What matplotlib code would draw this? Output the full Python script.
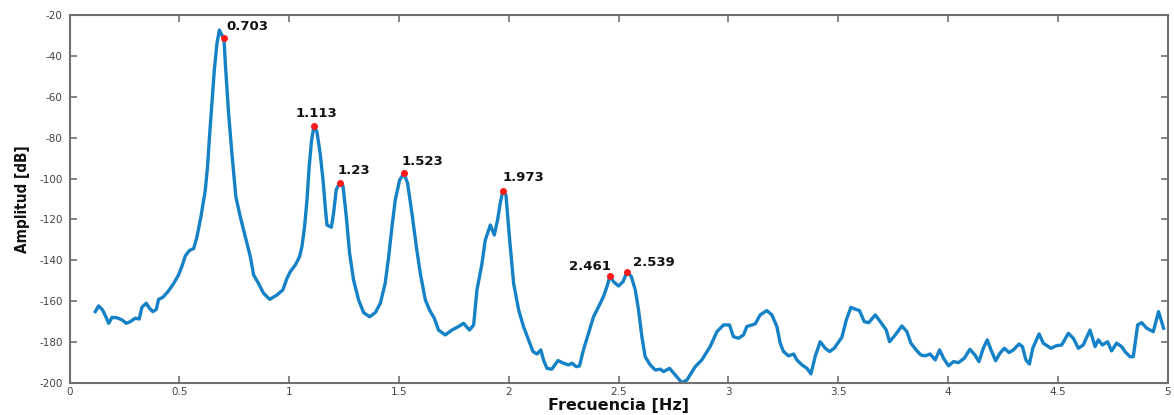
import matplotlib
matplotlib.use("Agg")
import matplotlib.pyplot as plt
from matplotlib import font_manager
import numpy as np

plt.rcParams["axes.unicode_minus"] = False

# spectrum
freq = [0.117, 0.132, 0.150, 0.165, 0.178, 0.193, 0.215, 0.238, 0.258, 0.276,
        0.299, 0.317, 0.329, 0.349, 0.364, 0.379, 0.395, 0.405, 0.425, 0.451,
        0.474, 0.496, 0.511, 0.527, 0.545, 0.565, 0.580, 0.598, 0.618, 0.628,
        0.637, 0.648, 0.659, 0.671, 0.682, 0.693, 0.703, 0.709, 0.724, 0.739,
        0.757, 0.777, 0.800, 0.823, 0.838, 0.860, 0.883, 0.911, 0.944, 0.971,
        0.990, 1.005, 1.028, 1.047, 1.058, 1.070, 1.081, 1.091, 1.102, 1.113,
        1.126, 1.141, 1.154, 1.164, 1.172, 1.192, 1.202, 1.214, 1.230, 1.245,
        1.260, 1.275, 1.293, 1.316, 1.339, 1.366, 1.392, 1.415, 1.437, 1.453,
        1.468, 1.483, 1.503, 1.523, 1.539, 1.559, 1.579, 1.597, 1.620, 1.639,
        1.661, 1.680, 1.711, 1.741, 1.771, 1.794, 1.821, 1.840, 1.855, 1.878,
        1.893, 1.916, 1.934, 1.949, 1.961, 1.973, 1.987, 2.004, 2.022, 2.045,
        2.067, 2.090, 2.110, 2.128, 2.146, 2.158, 2.174, 2.196, 2.224, 2.249,
        2.272, 2.288, 2.307, 2.322, 2.340, 2.363, 2.386, 2.409, 2.431, 2.447,
        2.461, 2.477, 2.500, 2.520, 2.539, 2.558, 2.576, 2.591, 2.606, 2.621,
        2.644, 2.667, 2.690, 2.705, 2.732, 2.758, 2.788, 2.811, 2.849, 2.879,
        2.917, 2.948, 2.978, 3.005, 3.023, 3.046, 3.069, 3.084, 3.122, 3.145,
        3.175, 3.198, 3.221, 3.236, 3.251, 3.274, 3.297, 3.312, 3.335, 3.358,
        3.376, 3.395, 3.418, 3.441, 3.461, 3.482, 3.517, 3.537, 3.558, 3.578,
        3.597, 3.619, 3.639, 3.669, 3.692, 3.719, 3.734, 3.760, 3.790, 3.813,
        3.831, 3.855, 3.877, 3.896, 3.919, 3.942, 3.962, 3.980, 4.003, 4.025,
        4.048, 4.074, 4.100, 4.123, 4.141, 4.161, 4.179, 4.196, 4.217, 4.237,
        4.257, 4.278, 4.298, 4.324, 4.339, 4.355, 4.371, 4.386, 4.415, 4.434,
        4.469, 4.495, 4.518, 4.548, 4.571, 4.594, 4.616, 4.647, 4.670, 4.685,
        4.703, 4.727, 4.745, 4.768, 4.791, 4.806, 4.829, 4.844, 4.864, 4.882,
        4.905, 4.935, 4.959, 4.982]

amp = [-165.0, -162.2, -164.2, -167.5, -170.7, -167.8, -168.0, -169.0, -170.7, -169.9,
       -168.2, -168.6, -162.9, -160.9, -163.4, -165.0, -163.9, -159.0, -158.0, -154.8,
       -151.2, -147.1, -143.0, -137.8, -135.2, -134.2, -128.4, -118.6, -105.6, -94.2,
       -79.6, -63.3, -47.0, -34.0, -27.5, -29.9, -31.5, -43.7, -68.2, -87.7,
       -108.9, -118.6, -128.4, -138.2, -147.1, -151.2, -156.0, -159.0, -156.9, -154.4,
       -148.7, -145.5, -142.2, -138.2, -133.3, -123.5, -110.5, -94.2, -81.2, -74.3,
       -77.1, -87.7, -100.7, -113.7, -122.7, -123.8, -117.0, -105.6, -102.0, -103.6,
       -118.6, -136.5, -149.5, -159.3, -165.5, -167.5, -165.5, -160.9, -151.2, -138.2,
       -123.5, -110.5, -100.7, -97.5, -102.3, -117.0, -133.3, -146.3, -159.3, -164.2,
       -168.3, -174.0, -176.4, -174.0, -172.3, -170.7, -174.0, -171.5, -154.4, -141.4,
       -130.0, -122.7, -127.6, -120.2, -112.1, -106.0, -108.0, -130.0, -151.2, -164.2,
       -172.3, -178.8, -184.5, -185.7, -183.7, -188.6, -192.7, -193.1, -188.9, -190.2,
       -191.0, -190.2, -191.9, -191.5, -183.7, -175.6, -167.5, -162.6, -157.7, -152.8,
       -147.6, -150.4, -152.5, -150.4, -145.5, -147.9, -154.4, -164.2, -177.2, -187.0,
       -191.0, -193.5, -193.1, -194.3, -192.7, -195.9, -199.7, -198.4, -191.9, -188.6,
       -182.1, -174.8, -171.5, -171.5, -177.2, -178.0, -176.4, -172.3, -171.0, -166.6,
       -164.5, -166.6, -172.3, -180.4, -184.5, -186.6, -185.7, -188.6, -191.0, -192.7,
       -195.4, -187.0, -179.7, -182.9, -184.5, -182.9, -177.5, -169.1, -162.9, -163.8,
       -164.5, -169.9, -170.4, -166.6, -169.9, -174.0, -179.7, -176.4, -172.0, -174.8,
       -180.4, -183.7, -186.2, -186.6, -185.7, -188.6, -183.7, -187.8, -191.5, -189.4,
       -189.9, -187.8, -183.4, -186.2, -189.4, -182.9, -178.8, -183.7, -189.0, -185.3,
       -182.9, -185.0, -183.7, -180.8, -182.1, -188.6, -190.6, -182.9, -175.9, -180.4,
       -182.9, -181.6, -181.3, -175.6, -178.0, -182.9, -181.3, -174.0, -182.1, -178.8,
       -181.3, -179.7, -184.2, -180.4, -182.1, -184.5, -187.0, -187.0, -171.5, -170.4,
       -173.1, -174.8, -165.0, -173.1]

peak_freqs = [0.703, 1.113, 1.23, 1.523, 1.973, 2.461, 2.539]
peak_amps = [-31.5, -74.3, -102.0, -97.5, -106.0, -147.6, -145.5]
peak_labels = ["0.703", "1.113", "1.23", "1.523", "1.973", "2.461", "2.539"]

# label placement relative to marker (pixels) and alignment
label_offsets = [(2, 8, "left"), (2, 9, "center"), (-2, 9, "left"), (-2, 8, "left"),
                 (0, 10, "left"), (1, 6, "right"), (6, 6, "left")]

# narrow font for the y label if there is one
installed = {f.name for f in font_manager.fontManager.ttflist}
if "Liberation Sans Narrow" in installed:
    ylab_font = dict(family="Liberation Sans Narrow", fontsize=13.5)
elif "DejaVu Sans Condensed" in installed:
    ylab_font = dict(family="DejaVu Sans Condensed", fontsize=12.2)
else:
    ylab_font = dict(family="DejaVu Sans", fontstretch="condensed", fontsize=11)

fig = plt.figure(figsize=(11.74, 4.15), dpi=100)
ax = fig.add_axes([0.0593, 0.0764, 0.9352, 0.8882])

ax.plot(freq, amp, color="#1581c6", linewidth=2.4, solid_joinstyle="round")
ax.plot(peak_freqs, peak_amps, "o", color="#ff1a1a", markersize=4, zorder=3)

for f, a, txt, (dx, dy, ha) in zip(peak_freqs, peak_amps, peak_labels, label_offsets):
    ax.annotate(txt, (f, a), xytext=(dx, dy), textcoords="offset pixels",
                ha=ha, va="baseline", fontsize=9.5, fontweight="bold",
                color="#111111")

ax.set_xlim(0, 5)
ax.set_ylim(-200, -20)
ax.set_xticks(np.arange(0, 5.01, 0.5))
ax.set_xticklabels(["0", "0.5", "1", "1.5", "2", "2.5", "3", "3.5", "4", "4.5", "5"])
ax.set_yticks(np.arange(-200, -19, 20))

gray = "#707070"
for s in ax.spines.values():
    s.set_color(gray)
    s.set_linewidth(1.5)
ax.tick_params(direction="in", length=5, width=1.2, color=gray,
               top=True, right=True, labelsize=7.5, labelcolor="#444444")
ax.tick_params(axis="x", pad=3)
ax.tick_params(axis="y", pad=5)

ax.set_xlabel("Frecuencia [Hz]", fontsize=11.5, fontweight="bold", color="#111111")
ax.xaxis.set_label_coords(0.5, -0.04)
ax.set_ylabel("Amplitud [dB]", fontweight="bold", color="#111111", **ylab_font)
ax.yaxis.set_label_coords(-0.036, 0.5)

fig.savefig("out.png", dpi=100)
